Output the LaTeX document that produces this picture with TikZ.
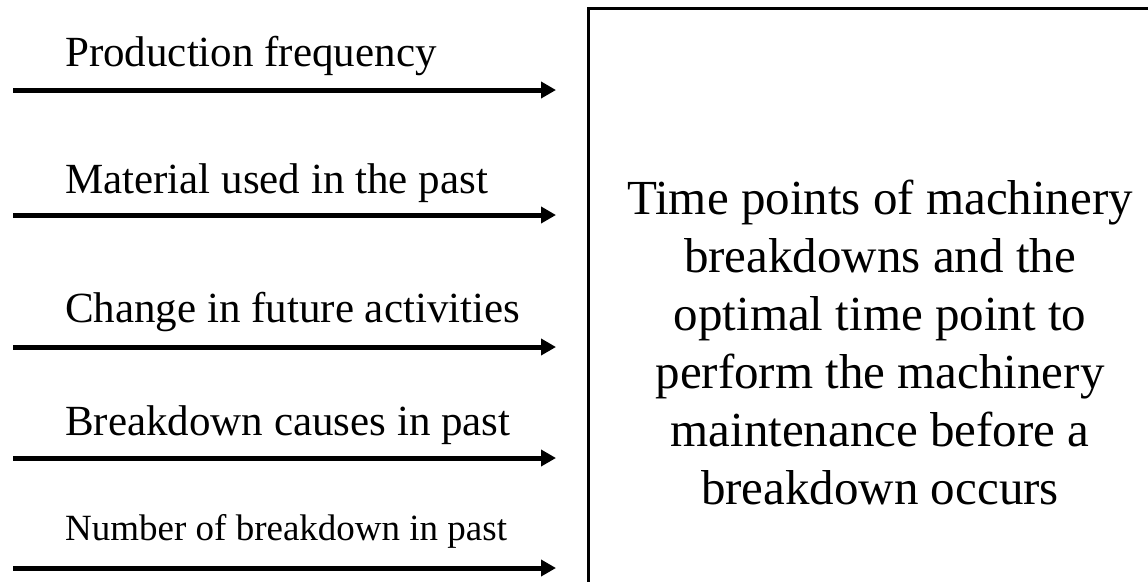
\documentclass[tikz,border=0pt]{standalone}
\usepackage{fontspec}
\setmainfont{Liberation Serif}
\usetikzlibrary{arrows.meta}
\begin{document}
\begin{tikzpicture}[x=1pt,y=-1pt,
  inarrow/.style={line width=5pt,-{Triangle[length=15pt,width=16pt]}},
  inlabel/.style={anchor=base west,inner sep=0pt,font=\fontsize{43}{50}\selectfont},
  smalllabel/.style={anchor=base west,inner sep=0pt,font=\fontsize{37}{44}\selectfont},
  resulttext/.style={align=center,inner sep=0pt,font=\fontsize{49}{58}\selectfont}]
\useasboundingbox (0,0) rectangle (1148,582);
\fill[white] (0,0) rectangle (1148,582);

% output box (its right and bottom sides run off the page)
\coordinate (boxtr) at (1148,8);
\coordinate (boxtl) at (588,8);
\coordinate (boxbl) at (588,582);
\draw[line width=3pt] (boxtr) -- (boxtl) -- (boxbl);
\node[resulttext] (result) at (880,342) {Time points of machinery\\breakdowns and the\\optimal time point to\\perform the machinery\\maintenance before a\\breakdown occurs};

% input factors
\node[inlabel] (l1) at (65,66) {Production frequency};
\node[inlabel] (l2) at (65,193) {Material used in the past};
\node[inlabel] (l3) at (65,322) {Change in future activities};
\node[inlabel] (l4) at (65,435) {Breakdown causes in past};
\node[smalllabel] (l5) at (65,540) {Number of breakdown in past};

\foreach \i/\y in {1/90,2/215,3/347,4/458,5/568}{
  \coordinate (s\i) at (13,\y);
  \coordinate (t\i) at (556,\y);
  \draw[inarrow] (s\i) -- (t\i);
}
\end{tikzpicture}
\end{document}
